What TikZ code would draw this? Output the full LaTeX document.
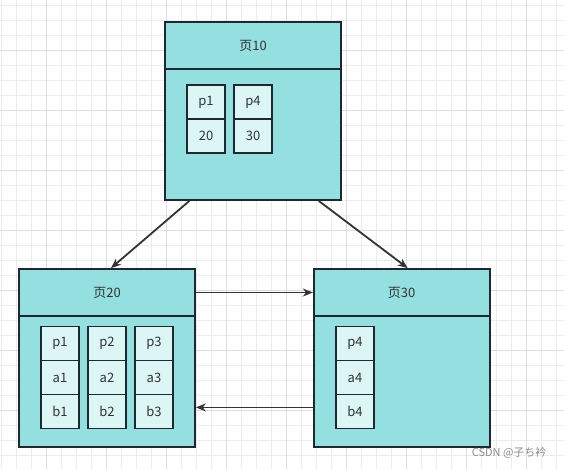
\documentclass[tikz,border=0pt]{standalone}
\usepackage{fontspec}
\setmainfont{Noto Sans CJK SC}
\usepackage{xcolor}
\usetikzlibrary{arrows.meta,positioning,calc}

\definecolor{pagefill}{RGB}{148,223,224}
\definecolor{cellfill}{RGB}{220,245,245}
\definecolor{edge}{RGB}{30,40,46}
\definecolor{ink}{RGB}{51,51,51}
\definecolor{minorgrid}{RGB}{236,236,236}
\definecolor{majorgrid}{RGB}{222,222,222}

\begin{document}
\begin{tikzpicture}[
    x=1pt, y=-1pt,
    page/.style={rectangle, draw=edge, fill=pagefill, line width=1.8pt, minimum width=176pt, minimum height=178pt, inner sep=0pt},
    head/.style={rectangle, draw=edge, fill=pagefill, line width=1.8pt, minimum width=176pt, minimum height=47pt, font=\fontsize{13}{15}\selectfont, text=ink, anchor=north},
    cell/.style={rectangle, draw=edge, fill=cellfill, line width=1.8pt, minimum width=38pt, minimum height=34pt, inner sep=0pt, outer sep=0pt, font=\fontsize{13}{15}\selectfont, text=ink},
    link/.style={draw=ink, line width=1.8pt, -{Stealth[length=10pt,width=8pt]}}
]
\useasboundingbox (0,0) rectangle (564,469);
\fill[white] (0,0) rectangle (564,469);

% Grid background
\foreach \gx in {1,16,...,556} \draw[minorgrid, line width=0.8pt] (\gx,0) -- (\gx,469);
\foreach \gy in {5,20,...,465} \draw[minorgrid, line width=0.8pt] (0,\gy) -- (564,\gy);
\foreach \gx in {46,106,...,526} \draw[majorgrid, line width=0.8pt] (\gx,0) -- (\gx,469);
\foreach \gy in {50,110,...,410} \draw[majorgrid, line width=0.8pt] (0,\gy) -- (564,\gy);

% Page 10
\node[page] (p10) at (253,111) {};
\node[head] (h10) at (p10.north) {页10};
\node[cell] (c10p1) at (206,102) {p1};
\node[cell, below=0pt of c10p1] (c10v1) {20};
\node[cell] (c10p4) at (253,102) {p4};
\node[cell, below=0pt of c10p4] (c10v4) {30};

% Page 20
\node[page] (p20) at (107,358) {};
\node[head] (h20) at (p20.north) {页20};
\node[cell] (c20p1) at (60,343.5) {p1};
\node[cell, below=0pt of c20p1] (c20a1) {a1};
\node[cell, below=0pt of c20a1] (c20b1) {b1};
\node[cell] (c20p2) at (107,343.5) {p2};
\node[cell, below=0pt of c20p2] (c20a2) {a2};
\node[cell, below=0pt of c20a2] (c20b2) {b2};
\node[cell] (c20p3) at (154,343.5) {p3};
\node[cell, below=0pt of c20p3] (c20a3) {a3};
\node[cell, below=0pt of c20a3] (c20b3) {b3};

% Page 30
\node[page] (p30) at (401.7,358) {};
\node[head] (h30) at (p30.north) {页30};
\node[cell] (c30p4) at (355,343.5) {p4};
\node[cell, below=0pt of c30p4] (c30a4) {a4};
\node[cell, below=0pt of c30a4] (c30b4) {b4};

% Links between pages
\draw[link] ($(p10.south west)!0.142!(p10.south east)$) -- ($(p20.north)+(4,0)$);
\draw[link] ($(p10.south west)!0.87!(p10.south east)$) -- ($(p30.north)+(6,0)$);
\draw[link] (h20.east) -- (h30.west);
\coordinate (back30) at ($(p30.south west)+(0,-40.5)$);
\coordinate (back20) at ($(p20.south east)+(0,-40.5)$);
\draw[link] (back30) -- (back20);

% Watermark
\node[anchor=east, font=\fontsize{11}{13}\selectfont, text=black!45] (mark) at (550,453) {CSDN @子ち衿};
\end{tikzpicture}
\end{document}
